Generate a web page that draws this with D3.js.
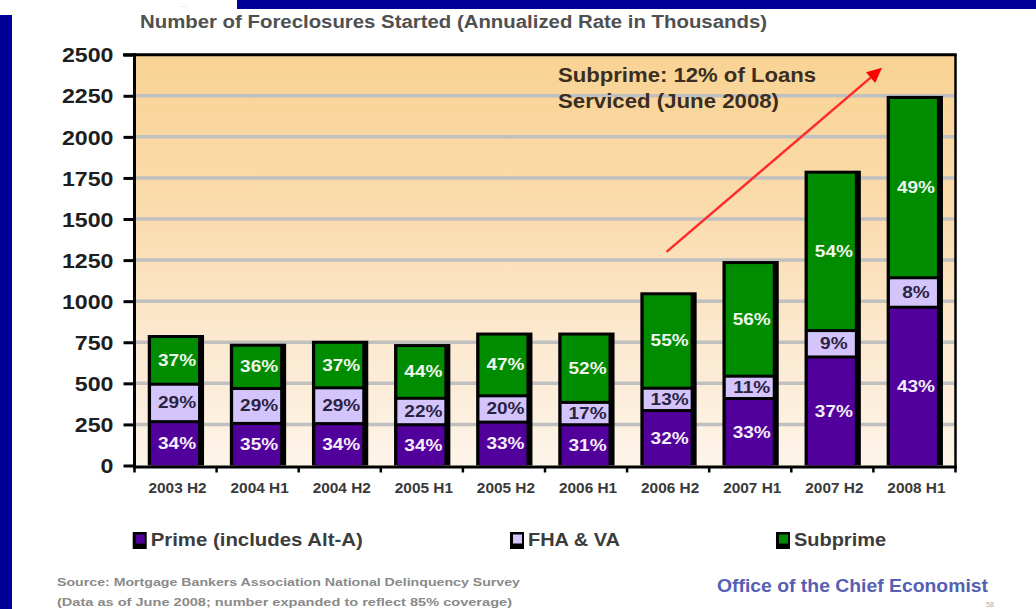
<!DOCTYPE html>
<html>
<head>
<meta charset="utf-8">
<script src="https://cdn.jsdelivr.net/npm/d3@7"></script>
<style>
  html, body { margin: 0; padding: 0; background: #fff; }
  svg { display: block; font-family: "Liberation Sans", Arial, sans-serif; }
</style>
</head>
<body>
<svg id="chart" width="1036" height="609"></svg>
<script>
// Half-year periods
const categories = ["2003 H2", "2004 H1", "2004 H2", "2005 H1", "2005 H2",
                    "2006 H1", "2006 H2", "2007 H1", "2007 H2", "2008 H1"];
// Foreclosures started, annualized rate in thousands
const totals = [785, 732, 750, 730, 800, 800, 1045, 1235, 1785, 2240];
// Share of each loan type (%)
const primePct    = [34, 35, 34, 34, 33, 31, 32, 33, 37, 43];
const fhaPct      = [29, 29, 29, 22, 20, 17, 13, 11, 9, 8];
const subprimePct = [37, 36, 37, 44, 47, 52, 55, 56, 54, 49];
const seriesNames = ["Prime (includes Alt-A)", "FHA & VA", "Subprime"];
const seriesColors = ["#52009b", "#d4c4fc", "#008c00"];
const labelColors = ["#f2eefa", "#2a2340", "#eef6ee"];
const yTickValues = [0, 250, 500, 750, 1000, 1250, 1500, 1750, 2000, 2250, 2500];

const svg = d3.select("#chart");

const plot = { left: 134.5, right: 955.5, top: 54.7, bottom: 465.5 };

const x = d3.scaleBand().domain(categories).range([plot.left, plot.right]).padding(0);
const y = d3.scaleLinear().domain([0, 2500]).range([plot.bottom, plot.top]);

// Frame bars of the slide
svg.append("rect").attr("x", 0).attr("y", 15).attr("width", 12).attr("height", 594).attr("fill", "#000099");
svg.append("rect").attr("x", 237).attr("y", 0).attr("width", 799).attr("height", 9).attr("fill", "#000099");
svg.append("text").attr("x", 181).attr("y", 8).attr("font-size", 6).attr("fill", "#aaa").text("- -");

// Title
svg.append("text")
  .attr("x", 140).attr("y", 28)
  .attr("font-size", 18).attr("font-weight", "bold").attr("fill", "#505050")
  .attr("textLength", 627).attr("lengthAdjust", "spacingAndGlyphs")
  .text("Number of Foreclosures Started (Annualized Rate in Thousands)");

// Plot background gradient
const defs = svg.append("defs");
const grad = defs.append("linearGradient").attr("id", "bg").attr("x1", 0).attr("y1", 0).attr("x2", 0).attr("y2", 1);
grad.append("stop").attr("offset", "0%").attr("stop-color", "#f9d394");
grad.append("stop").attr("offset", "40%").attr("stop-color", "#fadcae");
grad.append("stop").attr("offset", "70%").attr("stop-color", "#fce9d0");
grad.append("stop").attr("offset", "100%").attr("stop-color", "#fdf4e9");
svg.append("rect")
  .attr("x", plot.left).attr("y", plot.top)
  .attr("width", plot.right - plot.left).attr("height", plot.bottom - plot.top)
  .attr("fill", "url(#bg)");

// Horizontal gridlines
svg.append("g").selectAll("line")
  .data(yTickValues.filter(v => v > 0 && v < 2500))
  .join("line")
  .attr("x1", plot.left).attr("x2", plot.right)
  .attr("y1", d => y(d)).attr("y2", d => y(d))
  .attr("stroke", "#c0c0c0").attr("stroke-width", 3.5);

// Stacked bars
const stacks = categories.map((c, i) => {
  const pcts = [primePct[i], fhaPct[i], subprimePct[i]];
  let acc = 0;
  const segs = pcts.map((p, k) => {
    const lo = acc;
    acc += totals[i] * p / 100;
    return { k, pct: p, lo, hi: acc };
  });
  return { cat: c, total: totals[i], segs };
});

const innerW = 47;
const barG = svg.append("g").selectAll("g").data(stacks).join("g");

barG.append("rect")
  .attr("x", d => x(d.cat) + x.bandwidth() / 2 - innerW / 2 - 1 - 3.3)
  .attr("width", innerW + 3.3 + 6)
  .attr("y", d => y(d.total) - 1.5)
  .attr("height", d => plot.bottom - (y(d.total) - 1.5))
  .attr("fill", "#000");

barG.selectAll("rect.seg").data(d => d.segs.map(s => ({ ...s, cat: d.cat })))
  .join("rect").attr("class", "seg")
  .attr("x", d => x(d.cat) + x.bandwidth() / 2 - innerW / 2 - 1)
  .attr("width", innerW)
  .attr("y", d => y(d.hi) + 1.5)
  .attr("height", d => (d.lo === 0 ? y(0) : y(d.lo) - 1.5) - (y(d.hi) + 1.5))
  .attr("fill", d => seriesColors[d.k]);

// Percentage labels, slightly widened
barG.selectAll("text").data(d => d.segs.map(s => ({ ...s, cat: d.cat })))
  .join("text")
  .attr("transform", d => `translate(${x(d.cat) + x.bandwidth() / 2 + 1.5},${(y(d.lo) + y(d.hi)) / 2 + 1}) scale(1.12,1)`)
  .attr("text-anchor", "middle").attr("dominant-baseline", "middle")
  .attr("font-size", 17).attr("font-weight", "bold")
  .attr("fill", d => labelColors[d.k])
  .text(d => d.pct + "%");

// Plot frame: top and right borders
svg.append("line").attr("x1", 123).attr("x2", plot.right + 1.2)
  .attr("y1", plot.top).attr("y2", plot.top).attr("stroke", "#000").attr("stroke-width", 3);
svg.append("line").attr("x1", plot.right).attr("x2", plot.right)
  .attr("y1", plot.top).attr("y2", plot.bottom + 3).attr("stroke", "#000").attr("stroke-width", 2.5);

// Y axis
const yAxis = d3.axisLeft(y).tickValues(yTickValues).tickSize(11).tickSizeOuter(0).tickFormat(d3.format("d"));
const gy = svg.append("g").attr("transform", `translate(${plot.left},0)`).call(yAxis);
gy.select(".domain").attr("stroke", "#000").attr("stroke-width", 3)
  .attr("d", `M0,${plot.top - 1.5}V${plot.bottom + 3}`);
gy.selectAll(".tick line").attr("stroke", "#000").attr("stroke-width", 3);
gy.selectAll(".tick text")
  .attr("x", 0).attr("dy", "0.36em")
  .attr("transform", "translate(-21,0) scale(1.16,1)")
  .attr("font-size", 20).attr("font-weight", "bold").attr("fill", "#1e1e1e")
  .attr("font-family", "Liberation Sans, Arial, sans-serif");

// X axis
const xAxis = d3.axisBottom(x).tickSize(0).tickPadding(16);
const gx = svg.append("g").attr("transform", `translate(0,${plot.bottom + 1.5})`).call(xAxis);
gx.select(".domain").attr("stroke", "#000").attr("stroke-width", 3)
  .attr("d", `M${plot.left - 1.5},0H${plot.right + 1.2}`);
gx.selectAll(".tick text")
  .attr("transform", "translate(2,0) scale(1.1,1)")
  .attr("font-size", 14).attr("font-weight", "bold").attr("fill", "#3a3a3a")
  .attr("font-family", "Liberation Sans, Arial, sans-serif");
// Category boundary ticks
svg.append("g").selectAll("line")
  .data(categories.map(c => x(c)).concat([plot.right]))
  .join("line")
  .attr("x1", d => d).attr("x2", d => d)
  .attr("y1", plot.bottom + 2).attr("y2", plot.bottom + 7)
  .attr("stroke", "#000").attr("stroke-width", 2.5);

// Annotation: subprime share and rising arrow
const ann = svg.append("g").attr("font-size", 20).attr("font-weight", "bold").attr("fill", "#3a2e22");
ann.append("text").attr("x", 558).attr("y", 82).attr("textLength", 258).attr("lengthAdjust", "spacingAndGlyphs")
  .text("Subprime: 12% of Loans");
ann.append("text").attr("x", 558).attr("y", 108).attr("textLength", 221).attr("lengthAdjust", "spacingAndGlyphs")
  .text("Serviced (June 2008)");

const a0 = [x("2006 H2") + 0.48 * x.bandwidth(), y(1300)];
const a1 = [x("2008 H1") + 0.105 * x.bandwidth(), y(2420)];
const ang = Math.atan2(a1[1] - a0[1], a1[0] - a0[0]);
const headL = 15, headW = 7;
const base = [a1[0] - headL * Math.cos(ang), a1[1] - headL * Math.sin(ang)];
svg.append("line")
  .attr("x1", a0[0]).attr("y1", a0[1]).attr("x2", base[0]).attr("y2", base[1])
  .attr("stroke", "#ff2a2a").attr("stroke-width", 2.5);
svg.append("path")
  .attr("d", d3.line()([
    a1,
    [base[0] + headW * Math.sin(ang), base[1] - headW * Math.cos(ang)],
    [base[0] - headW * Math.sin(ang), base[1] + headW * Math.cos(ang)]
  ]) + "Z")
  .attr("fill", "#ff0000");

// Legend
const legendX = [132.7, 510, 776];
const legendTextW = [212, 92, 92];
const lg = svg.append("g").selectAll("g").data(seriesNames).join("g")
  .attr("transform", (d, i) => `translate(${legendX[i]},532)`);
lg.append("rect").attr("width", 14).attr("height", 17).attr("fill", "#000");
lg.append("rect").attr("x", 3).attr("y", 2.5).attr("width", 9).attr("height", 9)
  .attr("fill", (d, i) => seriesColors[i]);
lg.append("text").attr("x", 18).attr("y", 14)
  .attr("font-size", 19).attr("font-weight", "bold").attr("fill", "#3c3c3c")
  .attr("textLength", (d, i) => legendTextW[i]).attr("lengthAdjust", "spacingAndGlyphs")
  .text(d => d);

// Footer
const foot = svg.append("g").attr("font-size", 11.5).attr("fill", "#8a8a8a").attr("font-weight", "bold");
foot.append("text").attr("x", 57).attr("y", 586).attr("textLength", 463).attr("lengthAdjust", "spacingAndGlyphs")
  .text("Source: Mortgage Bankers Association National Delinquency Survey");
foot.append("text").attr("x", 57).attr("y", 606).attr("textLength", 455).attr("lengthAdjust", "spacingAndGlyphs")
  .text("(Data as of June 2008; number expanded to reflect 85% coverage)");

svg.append("text").attr("x", 717).attr("y", 592)
  .attr("font-size", 18).attr("font-weight", "bold").attr("fill", "#5560b2")
  .attr("textLength", 271).attr("lengthAdjust", "spacingAndGlyphs")
  .text("Office of the Chief Economist");
svg.append("text").attr("x", 986).attr("y", 607).attr("font-size", 7).attr("fill", "#aaa").text("58");
</script>
</body>
</html>
